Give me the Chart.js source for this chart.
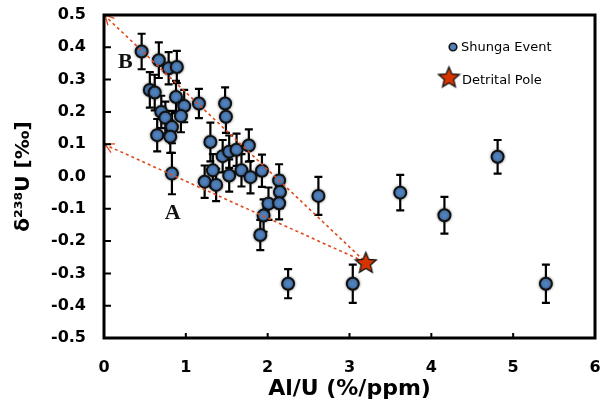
<!DOCTYPE html>
<html lang="en">
<head>
  <meta charset="utf-8">
  <title>Shunga Event d238U vs Al/U</title>
  <script src="https://cdn.jsdelivr.net/npm/chart.js@4.4.1/dist/chart.umd.min.js"></script>
  <style>
    body { margin: 0; background: #fff; }
    #wrap { width: 603px; height: 408px; }
  </style>
</head>
<body>
<div id="wrap"><canvas id="chart" width="603" height="408"></canvas></div>
<script>
// Shunga Event samples
const alU = [0.46,0.67,0.79,0.89,0.56,0.62,0.88,0.98,0.70,0.94,0.75,0.83,0.65,0.81,1.16,1.48,
  1.49,1.30,1.45,1.53,1.62,1.77,1.33,1.23,1.37,1.53,1.68,1.79,1.93,2.14,2.15,0.83,2.01,2.14,
  1.95,1.91,2.25,2.62,3.62,4.16,4.81,3.04,5.40];
const d238U = [0.387,0.36,0.335,0.339,0.268,0.26,0.246,0.218,0.20,0.187,0.182,0.153,0.128,0.123,0.226,0.226,
  0.185,0.107,0.063,0.077,0.083,0.096,0.019,-0.016,-0.026,0.003,0.019,-0.002,0.018,-0.012,-0.048,0.009,-0.084,-0.083,
  -0.121,-0.181,-0.332,-0.06,-0.05,-0.12,0.061,-0.332,-0.332];
const d238Uerr = [0.055,0.055,0.05,0.05,0.055,0.055,0.05,0.05,0.05,0.05,0.05,0.05,0.05,0.05,0.045,0.05,
  0.05,0.06,0.05,0.05,0.05,0.05,0.05,0.05,0.05,0.05,0.05,0.05,0.05,0.05,0.05,0.064,0.05,0.05,
  0.05,0.047,0.045,0.059,0.055,0.057,0.052,0.059,0.059];

// detrital pole and the two mixing end members (A, B)
const poleX = [3.2];
const poleY = [-0.266];
const endLabels = ['A', 'B'];
const endY = [0.1, 0.5];
const labelPos = [[0.84, -0.115], [0.26, 0.355]];

const xTicks = [0, 1, 2, 3, 4, 5, 6];

const mixColor = '#e0481c';

// filled star used for the detrital pole
function makeStar(size) {
  const c = document.createElement('canvas');
  c.width = size; c.height = size;
  const g = c.getContext('2d');
  const cx = size / 2, cy = size / 2 + 1, R = size / 2 - 1.5, r = R * 0.45;
  g.beginPath();
  for (let i = 0; i < 10; i++) {
    const a = -Math.PI / 2 + i * Math.PI / 5;
    const rr = i % 2 ? r : R;
    g.lineTo(cx + rr * Math.cos(a), cy + rr * Math.sin(a));
  }
  g.closePath();
  g.fillStyle = '#d43500';
  g.fill();
  g.lineWidth = 1.3;
  g.strokeStyle = '#111';
  g.stroke();
  return c;
}
const star = makeStar(25);

const pts = alU.map((x, i) => ({x: x, y: d238U[i]}));

const extras = {
  id: 'extras',
  beforeDatasetsDraw(chart) {
    // error bars
    const ctx = chart.ctx, ys = chart.scales.y;
    const meta = chart.getDatasetMeta(2);
    ctx.save();
    ctx.strokeStyle = '#000';
    ctx.lineWidth = 2.2;
    meta.data.forEach((p, i) => {
      const t = ys.getPixelForValue(d238U[i] + d238Uerr[i]);
      const b = ys.getPixelForValue(d238U[i] - d238Uerr[i]);
      ctx.beginPath();
      ctx.moveTo(p.x, t); ctx.lineTo(p.x, b);
      ctx.moveTo(p.x - 4, t); ctx.lineTo(p.x + 4, t);
      ctx.moveTo(p.x - 4, b); ctx.lineTo(p.x + 4, b);
      ctx.stroke();
    });
    ctx.restore();
  },
  beforeDatasetDraw(chart, args) {
    if (args.index === 2) {
      chart.ctx.save();
      chart.ctx.shadowColor = 'rgba(0,0,0,0.45)';
      chart.ctx.shadowBlur = 3;
    }
  },
  afterDatasetDraw(chart, args) {
    if (args.index === 2) chart.ctx.restore();
  },
  afterDatasetsDraw(chart) {
    const ctx = chart.ctx, xs = chart.scales.x, ys = chart.scales.y;
    const a = chart.chartArea;
    ctx.save();
    // arrow heads at the end members
    ctx.strokeStyle = mixColor;
    ctx.lineWidth = 1.3;
    endY.forEach(v => {
      const x0 = xs.getPixelForValue(0), y0 = ys.getPixelForValue(v);
      const x1 = xs.getPixelForValue(poleX[0]), y1 = ys.getPixelForValue(poleY[0]);
      const ang = Math.atan2(y1 - y0, x1 - x0);
      ctx.beginPath();
      ctx.moveTo(x0 + 11 * Math.cos(ang - 0.45), y0 + 11 * Math.sin(ang - 0.45));
      ctx.lineTo(x0 + 1, y0);
      ctx.lineTo(x0 + 11 * Math.cos(ang + 0.45), y0 + 11 * Math.sin(ang + 0.45));
      ctx.stroke();
    });
    // box and inner ticks
    ctx.strokeStyle = '#000';
    ctx.lineWidth = 3;
    ctx.strokeRect(a.left, a.top, a.right - a.left, a.bottom - a.top);
    ctx.lineWidth = 2;
    ctx.beginPath();
    ys.ticks.forEach(t => {
      const y = ys.getPixelForValue(t.value);
      ctx.moveTo(a.left, y); ctx.lineTo(a.left + 7, y);
    });
    xs.ticks.forEach(t => {
      const x = xs.getPixelForValue(t.value);
      ctx.moveTo(x, a.bottom); ctx.lineTo(x, a.bottom - 5);
    });
    ctx.stroke();
    // A / B labels
    ctx.fillStyle = '#111';
    ctx.font = 'bold 22px "Liberation Serif", serif';
    ctx.textAlign = 'center';
    ctx.textBaseline = 'middle';
    endLabels.forEach((s, i) => {
      ctx.fillText(s, xs.getPixelForValue(labelPos[i][0]), ys.getPixelForValue(labelPos[i][1]));
    });
    // legend
    ctx.font = '13px "DejaVu Sans", sans-serif';
    ctx.textAlign = 'left';
    ctx.beginPath();
    ctx.arc(453, 47, 3.8, 0, Math.PI * 2);
    ctx.fillStyle = '#4f81bd';
    ctx.fill();
    ctx.lineWidth = 1.6;
    ctx.strokeStyle = '#111';
    ctx.stroke();
    ctx.fillStyle = '#000';
    ctx.fillText('Shunga Event', 461, 48);
    ctx.drawImage(star, 449 - 12.5, 77 - 12.5);
    ctx.fillText('Detrital Pole', 462, 81);
    ctx.restore();
  }
};

new Chart(document.getElementById('chart'), {
  type: 'scatter',
  data: {
    datasets: [
      {
        label: 'Detrital Pole',
        data: poleX.map((x, i) => ({x: x, y: poleY[i]})),
        pointStyle: star,
        order: 0
      },
      {
        type: 'line',
        label: 'mix B',
        data: [{x: 0, y: endY[1]}, {x: poleX[0], y: poleY[0]}],
        borderColor: mixColor,
        borderWidth: 1.6,
        borderDash: [3, 3],
        pointRadius: 0,
        fill: false,
        order: 1
      },
      {
        label: 'Shunga Event',
        data: pts,
        backgroundColor: '#4f81bd',
        borderColor: '#111',
        borderWidth: 2,
        pointRadius: 6,
        order: 3
      },
      {
        type: 'line',
        label: 'mix A',
        data: [{x: 0, y: endY[0]}, {x: poleX[0], y: poleY[0]}],
        borderColor: mixColor,
        borderWidth: 1.6,
        borderDash: [3, 3],
        pointRadius: 0,
        fill: false,
        order: 1
      }
    ]
  },
  options: {
    responsive: false,
    animation: false,
    layout: { padding: { top: 15, right: 5, left: 0, bottom: 0 } },
    plugins: { legend: { display: false }, tooltip: { enabled: false } },
    scales: {
      x: {
        type: 'linear',
        min: 0, max: 6,
        afterBuildTicks: s => { s.ticks = xTicks.map(v => ({value: v})); },
        afterFit: s => { s.height = 70; s.paddingLeft = 0; s.paddingRight = 0; },
        grid: { display: false, drawTicks: false },
        border: { display: false },
        ticks: {
          padding: 20,
          color: '#000',
          font: { family: 'DejaVu Sans', weight: 'bold', size: 16 },
          callback: v => v
        },
        title: {
          display: true,
          text: 'Al/U (%/ppm)',
          color: '#000',
          font: { family: 'DejaVu Sans', weight: 'bold', size: 22 },
          padding: { top: 0, bottom: 6 }
        }
      },
      y: {
        min: -0.5, max: 0.5,
        afterFit: s => { s.width = 104; s.paddingTop = 0; s.paddingBottom = 0; },
        grid: { display: false, drawTicks: false },
        border: { display: false },
        ticks: {
          stepSize: 0.1,
          padding: 18,
          color: '#000',
          font: { family: 'DejaVu Sans', weight: 'bold', size: 16 },
          callback: v => v.toFixed(1)
        },
        title: {
          display: true,
          text: 'δ²³⁸U [‰]',
          color: '#000',
          font: { family: 'DejaVu Sans', weight: 'bold', size: 20 },
          padding: { top: 12, bottom: 0 }
        }
      }
    }
  },
  plugins: [extras]
});
</script>
</body>
</html>
